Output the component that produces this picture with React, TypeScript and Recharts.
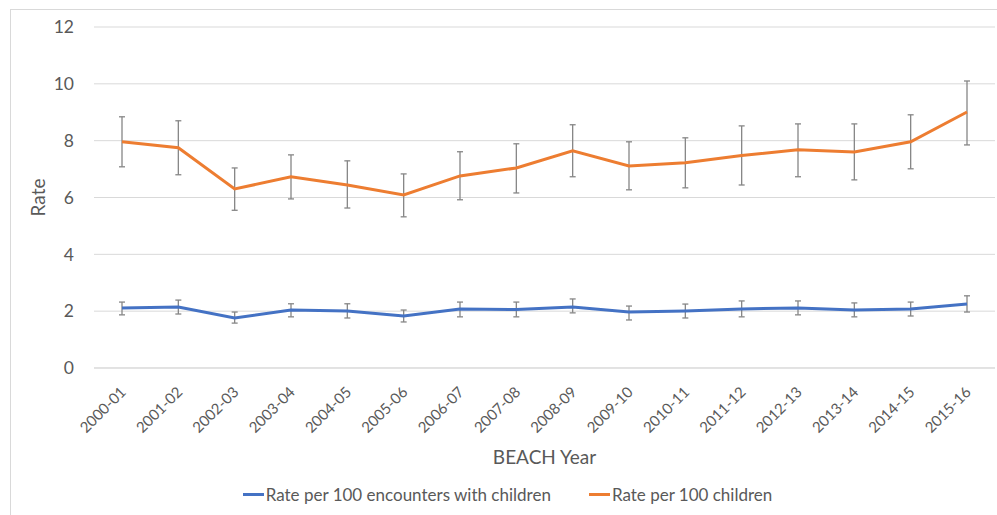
import { LineChart, Line, XAxis, YAxis, CartesianGrid, ErrorBar, Legend } from "recharts";

const years = [
  "2000-01", "2001-02", "2002-03", "2003-04", "2004-05", "2005-06", "2006-07", "2007-08",
  "2008-09", "2009-10", "2010-11", "2011-12", "2012-13", "2013-14", "2014-15", "2015-16",
];

// Rate per 100 encounters with children
const encRate = [2.11, 2.15, 1.76, 2.04, 2.01, 1.83, 2.08, 2.06, 2.15, 1.97, 2.01, 2.08, 2.11, 2.04, 2.08, 2.25];
const encLow = [1.87, 1.9, 1.58, 1.8, 1.76, 1.62, 1.8, 1.8, 1.94, 1.69, 1.76, 1.8, 1.87, 1.8, 1.83, 1.97];
const encHigh = [2.32, 2.39, 1.97, 2.26, 2.26, 2.04, 2.32, 2.32, 2.43, 2.18, 2.25, 2.36, 2.36, 2.29, 2.32, 2.54];

// Rate per 100 children
const childRate = [7.96, 7.75, 6.3, 6.73, 6.44, 6.09, 6.76, 7.04, 7.64, 7.11, 7.22, 7.48, 7.68, 7.6, 7.96, 9.01];
const childLow = [7.08, 6.8, 5.55, 5.95, 5.63, 5.32, 5.92, 6.16, 6.73, 6.27, 6.34, 6.44, 6.73, 6.62, 7.01, 7.85];
const childHigh = [8.84, 8.7, 7.04, 7.5, 7.29, 6.83, 7.61, 7.89, 8.56, 7.96, 8.1, 8.52, 8.59, 8.59, 8.91, 10.1];

const yTicks = [0, 2, 4, 6, 8, 10, 12];

const BLUE = "#4472C4";
const ORANGE = "#ED7D31";
const TEXT = "#595959";
const GRID = "#d9d9d9";
const FONT = "Lato, 'Open Sans', sans-serif";

const data = years.map((year, i) => ({
  year,
  enc: encRate[i],
  encErr: [encRate[i] - encLow[i], encHigh[i] - encRate[i]],
  child: childRate[i],
  childErr: [childRate[i] - childLow[i], childHigh[i] - childRate[i]],
}));

function YearTick(props: any) {
  const { x, y, payload } = props;
  const tx = x + 5;
  const ty = y + 17;
  return (
    <text
      x={tx}
      y={ty}
      textAnchor="end"
      transform={`rotate(-45, ${tx}, ${ty})`}
      fill={TEXT}
      fontSize={15}
      fontFamily={FONT}
    >
      {payload.value}
    </text>
  );
}

function LegendBox() {
  const item = (color: string, label: string) => (
    <span style={{ display: "inline-flex", alignItems: "center", margin: "0 19px" }}>
      <span style={{ display: "inline-block", width: 21, height: 3, background: color, marginRight: 2 }} />
      <span>{label}</span>
    </span>
  );
  return (
    <div
      style={{
        height: 42,
        display: "flex",
        justifyContent: "center",
        alignItems: "center",
        fontFamily: FONT,
        fontSize: 17,
        color: TEXT,
      }}
    >
      {item(BLUE, "Rate per 100 encounters with children")}
      {item(ORANGE, "Rate per 100 children")}
    </div>
  );
}

export default function App() {
  return (
    <div
      style={{
        position: "absolute",
        left: 0,
        top: 0,
        width: 997,
        height: 515,
        overflow: "hidden",
        background: "#fff",
      }}
    >
      <div
        style={{
          position: "absolute",
          left: 10,
          top: 9,
          width: 1000,
          height: 520,
          border: `1px solid ${GRID}`,
        }}
      />
      <LineChart
        width={997}
        height={515}
        data={data}
        margin={{ top: 27, right: 2, left: 20, bottom: 0 }}
      >
        <CartesianGrid stroke={GRID} vertical={false} />
        <XAxis
          dataKey="year"
          height={105}
          interval={0}
          padding={{ left: 28, right: 28 }}
          tick={<YearTick />}
          tickLine={false}
          axisLine={{ stroke: GRID }}
          label={{
            value: "BEACH Year",
            position: "insideBottom",
            offset: 9,
            fill: TEXT,
            fontSize: 19,
            fontFamily: FONT,
          }}
        />
        <YAxis
          domain={[0, 12]}
          ticks={yTicks}
          width={74}
          axisLine={false}
          tickLine={false}
          tickSize={0}
          tickMargin={20}
          tick={{ fill: TEXT, fontSize: 17.5, fontFamily: FONT }}
          label={{
            value: "Rate",
            angle: -90,
            position: "insideLeft",
            offset: 18,
            fill: TEXT,
            fontSize: 19,
            fontFamily: FONT,
            style: { textAnchor: "middle" },
          }}
        />
        <Legend verticalAlign="bottom" content={<LegendBox />} />
        <Line
          dataKey="enc"
          name="Rate per 100 encounters with children"
          stroke={BLUE}
          strokeWidth={3}
          dot={false}
          isAnimationActive={false}
        >
          <ErrorBar dataKey="encErr" direction="y" width={3} stroke="#868686" strokeWidth={1.3} />
        </Line>
        <Line
          dataKey="child"
          name="Rate per 100 children"
          stroke={ORANGE}
          strokeWidth={3}
          dot={false}
          isAnimationActive={false}
        >
          <ErrorBar dataKey="childErr" direction="y" width={3} stroke="#868686" strokeWidth={1.3} />
        </Line>
      </LineChart>
    </div>
  );
}
